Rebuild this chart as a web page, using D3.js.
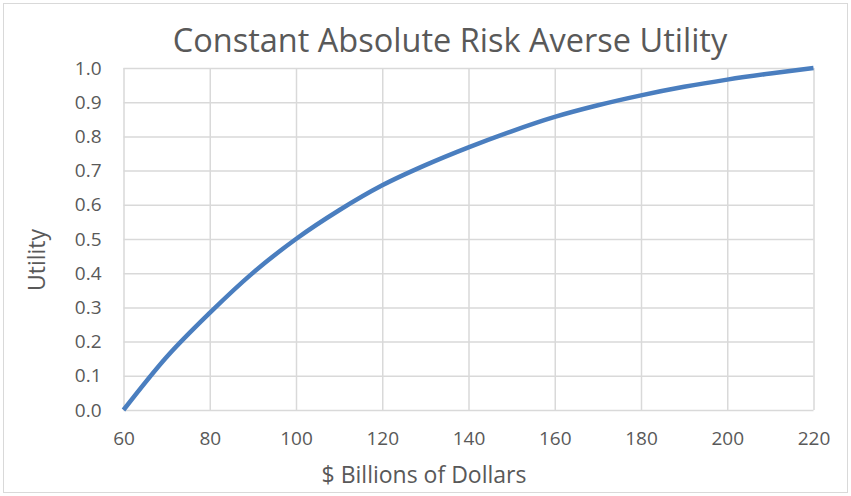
<!DOCTYPE html>
<html>
<head>
<meta charset="utf-8">
<script src="https://cdn.jsdelivr.net/npm/d3@7"></script>
<style>
  html, body { margin: 0; padding: 0; background: #fff; }
  svg { display: block; }
</style>
</head>
<body>
<svg id="chart" width="851" height="496"></svg>
<script>
// Wealth in $ billions and the matching utility values
const wealth  = [60, 70, 80, 90, 100, 110, 120, 130, 140, 150, 160, 170, 180, 190, 200, 210, 220];
const utility = [0, 0.155, 0.284, 0.401, 0.5, 0.584, 0.657, 0.716, 0.768, 0.815, 0.857, 0.891, 0.92, 0.945, 0.966, 0.984, 1.0];

const xTicks = [60, 80, 100, 120, 140, 160, 180, 200, 220];
const yTicks = [0, 0.1, 0.2, 0.3, 0.4, 0.5, 0.6, 0.7, 0.8, 0.9, 1.0];

const chartTitle = "Constant Absolute Risk Averse Utility";
const xTitle = "$ Billions of Dollars";
const yTitle = "Utility";

const W = 851, H = 496;
const plot = { left: 123.5, right: 813.5, top: 68, bottom: 410 };
const font = "'Open Sans', 'Noto Sans', sans-serif";
const textColor = "#595959";
const gridColor = "#d9d9d9";

const svg = d3.select("#chart");

// chart frame
svg.append("rect")
  .attr("x", 3.5).attr("y", 3.5)
  .attr("width", W - 7).attr("height", H - 7)
  .attr("fill", "#fff")
  .attr("stroke", gridColor)
  .attr("stroke-width", 1);

const x = d3.scaleLinear().domain([60, 220]).range([plot.left, plot.right]);
const y = d3.scaleLinear().domain([0, 1]).range([plot.bottom, plot.top]);

// vertical gridlines + x labels
const xAxis = d3.axisBottom(x)
  .tickValues(xTicks)
  .tickSize(-(plot.bottom - plot.top))
  .tickPadding(22)
  .tickFormat(d3.format("d"));

const gx = svg.append("g")
  .attr("transform", `translate(0,${plot.bottom})`)
  .call(xAxis);
gx.select(".domain").remove();
gx.selectAll(".tick line").attr("stroke", gridColor).attr("stroke-width", 1.5);
gx.selectAll(".tick text")
  .attr("fill", textColor)
  .style("font-family", font)
  .style("font-size", "19px");

// horizontal gridlines + y labels
const yAxis = d3.axisLeft(y)
  .tickValues(yTicks)
  .tickSize(-(plot.right - plot.left))
  .tickPadding(22)
  .tickFormat(d3.format(".1f"));

const gy = svg.append("g")
  .attr("transform", `translate(${plot.left},0)`)
  .call(yAxis);
gy.select(".domain").remove();
gy.selectAll(".tick line").attr("stroke", gridColor).attr("stroke-width", 1.5);
gy.selectAll(".tick text")
  .attr("fill", textColor)
  .style("font-family", font)
  .style("font-size", "19px");

// utility curve
const line = d3.line()
  .x((d, i) => x(wealth[i]))
  .y(d => y(d))
  .curve(d3.curveMonotoneX);

svg.append("path")
  .datum(utility)
  .attr("d", line)
  .attr("fill", "none")
  .attr("stroke", "#4a7ebf")
  .attr("stroke-width", 4.5)
  .attr("stroke-linecap", "butt");

// titles
svg.append("text")
  .attr("x", 450).attr("y", 52)
  .attr("text-anchor", "middle")
  .attr("fill", textColor)
  .style("font-family", font)
  .style("font-size", "32.5px")
  .text(chartTitle);

svg.append("text")
  .attr("x", 424).attr("y", 483)
  .attr("text-anchor", "middle")
  .attr("fill", textColor)
  .style("font-family", font)
  .style("font-size", "23px")
  .text(xTitle);

svg.append("text")
  .attr("transform", "translate(45, 260) rotate(-90)")
  .attr("text-anchor", "middle")
  .attr("fill", textColor)
  .style("font-family", font)
  .style("font-size", "23px")
  .text(yTitle);
</script>
</body>
</html>
